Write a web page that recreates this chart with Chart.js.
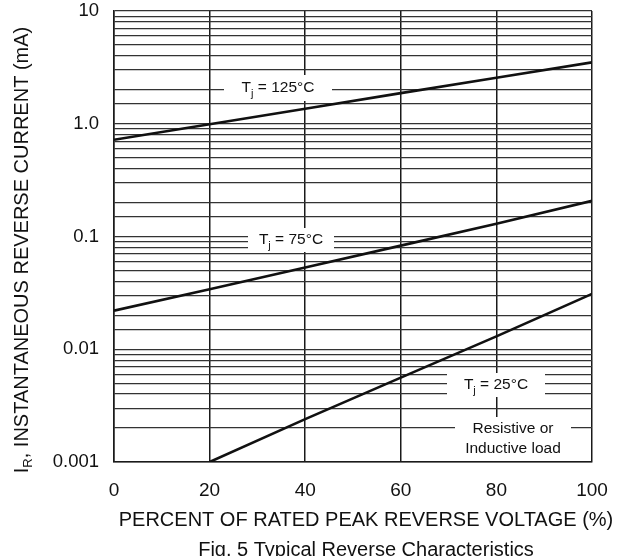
<!DOCTYPE html>
<html lang="en">
<head>
    <meta charset="UTF-8">
    <title>Typical Reverse Characteristics</title>
    <style>
        html, body {
            margin: 0;
            padding: 0;
            background: #fff;
        }

        .chart-box {
            width: 618px;
            height: 556px;
        }
    </style>
</head>
<body>
    <div class="chart-box">
        <canvas id="myChart"></canvas>
    </div>

    <script src="https://cdn.jsdelivr.net/npm/chart.js"></script>

    <script>
        // Data
        const voltage = [0, 20, 40, 60, 80, 100];
        const current125 = [0.72, 0.99, 1.36, 1.87, 2.56, 3.5];
        const current75 = [0.022, 0.034, 0.053, 0.083, 0.13, 0.207];
        const current25 = [null, 0.001, 0.0024, 0.0056, 0.013, 0.031];
        const decadeLabels = { 10: '10', 1: '1.0', 0.1: '0.1', 0.01: '0.01', 0.001: '0.001' };

        const FONT = '"Liberation Sans", Arial, sans-serif';

        function toPoints(ys) {
            return voltage.map((v, i) => ({ x: v, y: ys[i] }));
        }

        function curve(ys) {
            return {
                data: toPoints(ys),
                borderColor: '#111',
                borderWidth: 2.6,
                pointRadius: 0,
                tension: 0,
                spanGaps: false
            };
        }

        // White boxed notes sitting on the grid
        const notes = [
            { lines: ['125'], x: 278, y: 88, w: 108, h: 26, temp: true },
            { lines: ['75'], x: 291, y: 240, w: 86, h: 24, temp: true },
            { lines: ['25'], x: 496, y: 385, w: 98, h: 24, temp: true },
            { lines: ['Resistive or', 'Inductive load'], x: 513, y: 439, w: 116, h: 44, temp: false }
        ];

        function drawTemp(ctx, cx, cy, t) {
            const a = 'T', rest = ' = ' + t + '\u00B0C';
            ctx.font = '15.5px ' + FONT;
            const wa = ctx.measureText(a).width;
            const wr = ctx.measureText(rest).width;
            ctx.font = '11px ' + FONT;
            const wj = ctx.measureText('j').width;
            let x = cx - (wa + wj + wr) / 2;
            ctx.textAlign = 'left';
            ctx.textBaseline = 'middle';
            ctx.font = '15.5px ' + FONT;
            ctx.fillText(a, x, cy);
            x += wa;
            ctx.font = '11px ' + FONT;
            ctx.fillText('j', x, cy + 6);
            x += wj;
            ctx.font = '15.5px ' + FONT;
            ctx.fillText(rest, x, cy);
        }

        const notesPlugin = {
            id: 'notes',
            beforeDatasetsDraw(chart) {
                const ctx = chart.ctx;
                ctx.save();
                notes.forEach(n => {
                    ctx.fillStyle = '#fff';
                    ctx.fillRect(n.x - n.w / 2, n.y - n.h / 2, n.w, n.h);
                    ctx.fillStyle = '#111';
                    if (n.temp) {
                        drawTemp(ctx, n.x, n.y, n.lines[0]);
                    } else {
                        ctx.font = '15.5px ' + FONT;
                        ctx.textAlign = 'center';
                        ctx.textBaseline = 'middle';
                        ctx.fillText(n.lines[0], n.x, n.y - 10);
                        ctx.fillText(n.lines[1], n.x, n.y + 10);
                    }
                });
                ctx.restore();
            },
            afterDraw(chart) {
                const ctx = chart.ctx;
                ctx.save();
                ctx.fillStyle = '#111';
                // x axis title and caption (caption is cut by the frame)
                ctx.font = '20px ' + FONT;
                ctx.textAlign = 'center';
                ctx.textBaseline = 'middle';
                ctx.fillText('PERCENT OF RATED PEAK REVERSE VOLTAGE (%)', 366, 520);
                ctx.fillText('Fig. 5 Typical Reverse Characteristics', 366, 550);
                // y axis title, rotated, with subscript
                ctx.translate(22, 250);
                ctx.rotate(-Math.PI / 2);
                const main = ', INSTANTANEOUS REVERSE CURRENT (mA)';
                ctx.font = '20px ' + FONT;
                const wI = ctx.measureText('I').width;
                const wM = ctx.measureText(main).width;
                ctx.font = '13px ' + FONT;
                const wR = ctx.measureText('R').width;
                let x = -(wI + wR + wM) / 2;
                ctx.textAlign = 'left';
                ctx.font = '20px ' + FONT;
                ctx.fillText('I', x, 0);
                x += wI;
                ctx.font = '13px ' + FONT;
                ctx.fillText('R', x, 6);
                x += wR;
                ctx.font = '20px ' + FONT;
                ctx.fillText(main, x, 0);
                ctx.restore();
            }
        };

        const config = {
            type: 'line',
            data: {
                datasets: [curve(current125), curve(current75), curve(current25)]
            },
            options: {
                responsive: true,
                maintainAspectRatio: false,
                animation: false,
                layout: {
                    padding: { top: 11, right: 26, left: 0, bottom: 0 }
                },
                plugins: {
                    legend: { display: false },
                    tooltip: { enabled: false }
                },
                scales: {
                    x: {
                        type: 'linear',
                        min: 0,
                        max: 100,
                        afterFit(scale) {
                            scale.height = 94;
                            scale.paddingLeft = 0;
                            scale.paddingRight = 0;
                        },
                        ticks: {
                            stepSize: 20,
                            padding: 17,
                            color: '#111',
                            font: { family: FONT, size: 19 }
                        },
                        grid: { color: '#1a1a1a', lineWidth: 1.5, drawTicks: false },
                        border: { color: '#1a1a1a', width: 1.5 }
                    },
                    y: {
                        type: 'logarithmic',
                        min: 0.001,
                        max: 10,
                        afterFit(scale) {
                            scale.width = 114;
                            scale.paddingTop = 0;
                            scale.paddingBottom = 0;
                        },
                        ticks: {
                            autoSkip: false,
                            padding: 15,
                            color: '#111',
                            font: { family: FONT, size: 18.5 },
                            callback(value) {
                                const key = Number(value.toPrecision(3));
                                return decadeLabels[key] !== undefined ? decadeLabels[key] : '';
                            }
                        },
                        grid: { color: '#333', lineWidth: 1.3, drawTicks: false },
                        border: { color: '#1a1a1a', width: 1.5 }
                    }
                }
            },
            plugins: [notesPlugin]
        };

        new Chart(document.getElementById('myChart'), config);
    </script>
</body>
</html>
